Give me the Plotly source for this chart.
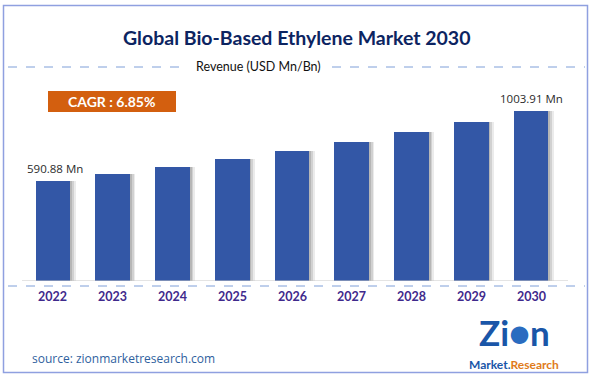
import plotly.graph_objects as go

years = ["2022", "2023", "2024", "2025", "2026", "2027", "2028", "2029", "2030"]
revenue = [590.88, 631.0, 675.0, 721.0, 770.0, 823.0, 880.0, 940.0, 1003.91]
value_labels = ["590.88 Mn", "", "", "", "", "", "", "", "1003.91 Mn"]
title_text = "Global Bio-Based Ethylene Market 2030"
subtitle_text = "Revenue (USD Mn/Bn)"
cagr_text = "CAGR : 6.85%"
source_text = "source: zionmarketresearch.com"

W, H = 596, 379
def px(x): return x / W
def py(y): return 1 - y / H

idx = list(range(len(years)))
fig = go.Figure()

# soft shadow on the right of each bar
for off, op in [(0.09, 0.10), (0.06, 0.14), (0.03, 0.18)]:
    fig.add_trace(go.Bar(x=[i + off for i in idx], y=revenue, width=0.58,
                         marker=dict(color=f"rgba(60,60,60,{op})", line=dict(width=0)),
                         hoverinfo="skip", showlegend=False))
fig.add_trace(go.Bar(x=idx, y=revenue, width=0.58,
                     marker=dict(color="#3357a6", line=dict(width=0)),
                     showlegend=False))

C = dict(xanchor="center", yanchor="middle", showarrow=False)
ann = []
ann.append(dict(x=px(296), y=py(37), xref="paper", yref="paper", text=f"<b>{title_text}</b>",
                font=dict(family="Lato", size=19.5, color="#0c2461"), **C))
ann.append(dict(x=px(258), y=py(67), xref="paper", yref="paper", text=subtitle_text,
                bgcolor="white", borderpad=9, font=dict(family="Lato", size=12.5, color="#111111"), **C))
ann.append(dict(x=px(111), y=py(101.5), xref="paper", yref="paper", text=f"<b>{cagr_text}</b>",
                font=dict(family="Lato", size=14, color="white"), **C))
for i, (lab, v) in enumerate(zip(value_labels, revenue)):
    if lab:
        ann.append(dict(x=i, y=v, xref="x", yref="y", text=lab, yshift=13, xshift=2 if i == 0 else 0,
                        font=dict(family="Open Sans", size=11.5, color="#2b2b2b"), **C))
for i, yr in enumerate(years):
    ann.append(dict(x=i, y=py(296), xref="x", yref="paper", text=f"<b>{yr}</b>",
                    font=dict(family="Lato", size=12.5, color="#3f2a8c"), **C))
ann.append(dict(x=px(30), y=py(358), xref="paper", yref="paper", text=source_text, xanchor="left",
                yanchor="middle", showarrow=False,
                font=dict(family="Open Sans", size=12, color="#2f5f9e")))
ann.append(dict(x=px(514), y=py(332), xref="paper", yref="paper",
                text="<b>Zi<span style='color:#2a6cc0'>●</span>n</b>",
                font=dict(family="Lato", size=35, color="#1a56a8"), **C))
ann.append(dict(x=px(514), y=py(364), xref="paper", yref="paper",
                text="<b>Market.<span style='color:#e07b1a'>Research</span></b>",
                font=dict(family="Lato", size=12, color="#1a56a8"), **C))

shapes = [
    # outer frame
    dict(type="rect", xref="paper", yref="paper", x0=px(3.5), x1=px(587.5), y0=py(372.5), y1=py(5.5),
         line=dict(color="#8fa0e0", width=1.5)),
    # subtitle dashed line
    dict(type="line", xref="paper", yref="paper", x0=px(8), x1=px(585), y0=py(67), y1=py(67),
         line=dict(color="#7f9fd8", width=1, dash="dash"), layer="below"),
    # CAGR box
    dict(type="rect", xref="paper", yref="paper", x0=px(48), x1=px(176), y0=py(112), y1=py(91),
         fillcolor="#d35f0f", line=dict(width=0), layer="below"),
    # baseline
    dict(type="line", xref="paper", yref="y", x0=px(22), x1=px(568), y0=0, y1=0,
         line=dict(color="#c8c8c8", width=1)),
    # dashed axis line
    dict(type="line", xref="paper", yref="paper", x0=px(8), x1=px(585), y0=py(286), y1=py(286),
         line=dict(color="#7f9fd8", width=1, dash="dash")),
]

fig.update_layout(
    width=W, height=H, margin=dict(l=0, r=0, t=0, b=0),
    paper_bgcolor="white", plot_bgcolor="white", barmode="overlay", bargap=0,
    xaxis=dict(domain=[px(23), px(561)], range=[-0.5, 8.5], showgrid=False, zeroline=False,
               showticklabels=False, fixedrange=True),
    yaxis=dict(domain=[py(281), py(78)], range=[0, 1200], showgrid=False, zeroline=False,
               showticklabels=False, fixedrange=True),
    annotations=ann, shapes=shapes, showlegend=False,
)
fig.write_html("out.html", config={"displayModeBar": False},
               post_script="document.body.style.margin='0';document.body.style.overflow='hidden';")
